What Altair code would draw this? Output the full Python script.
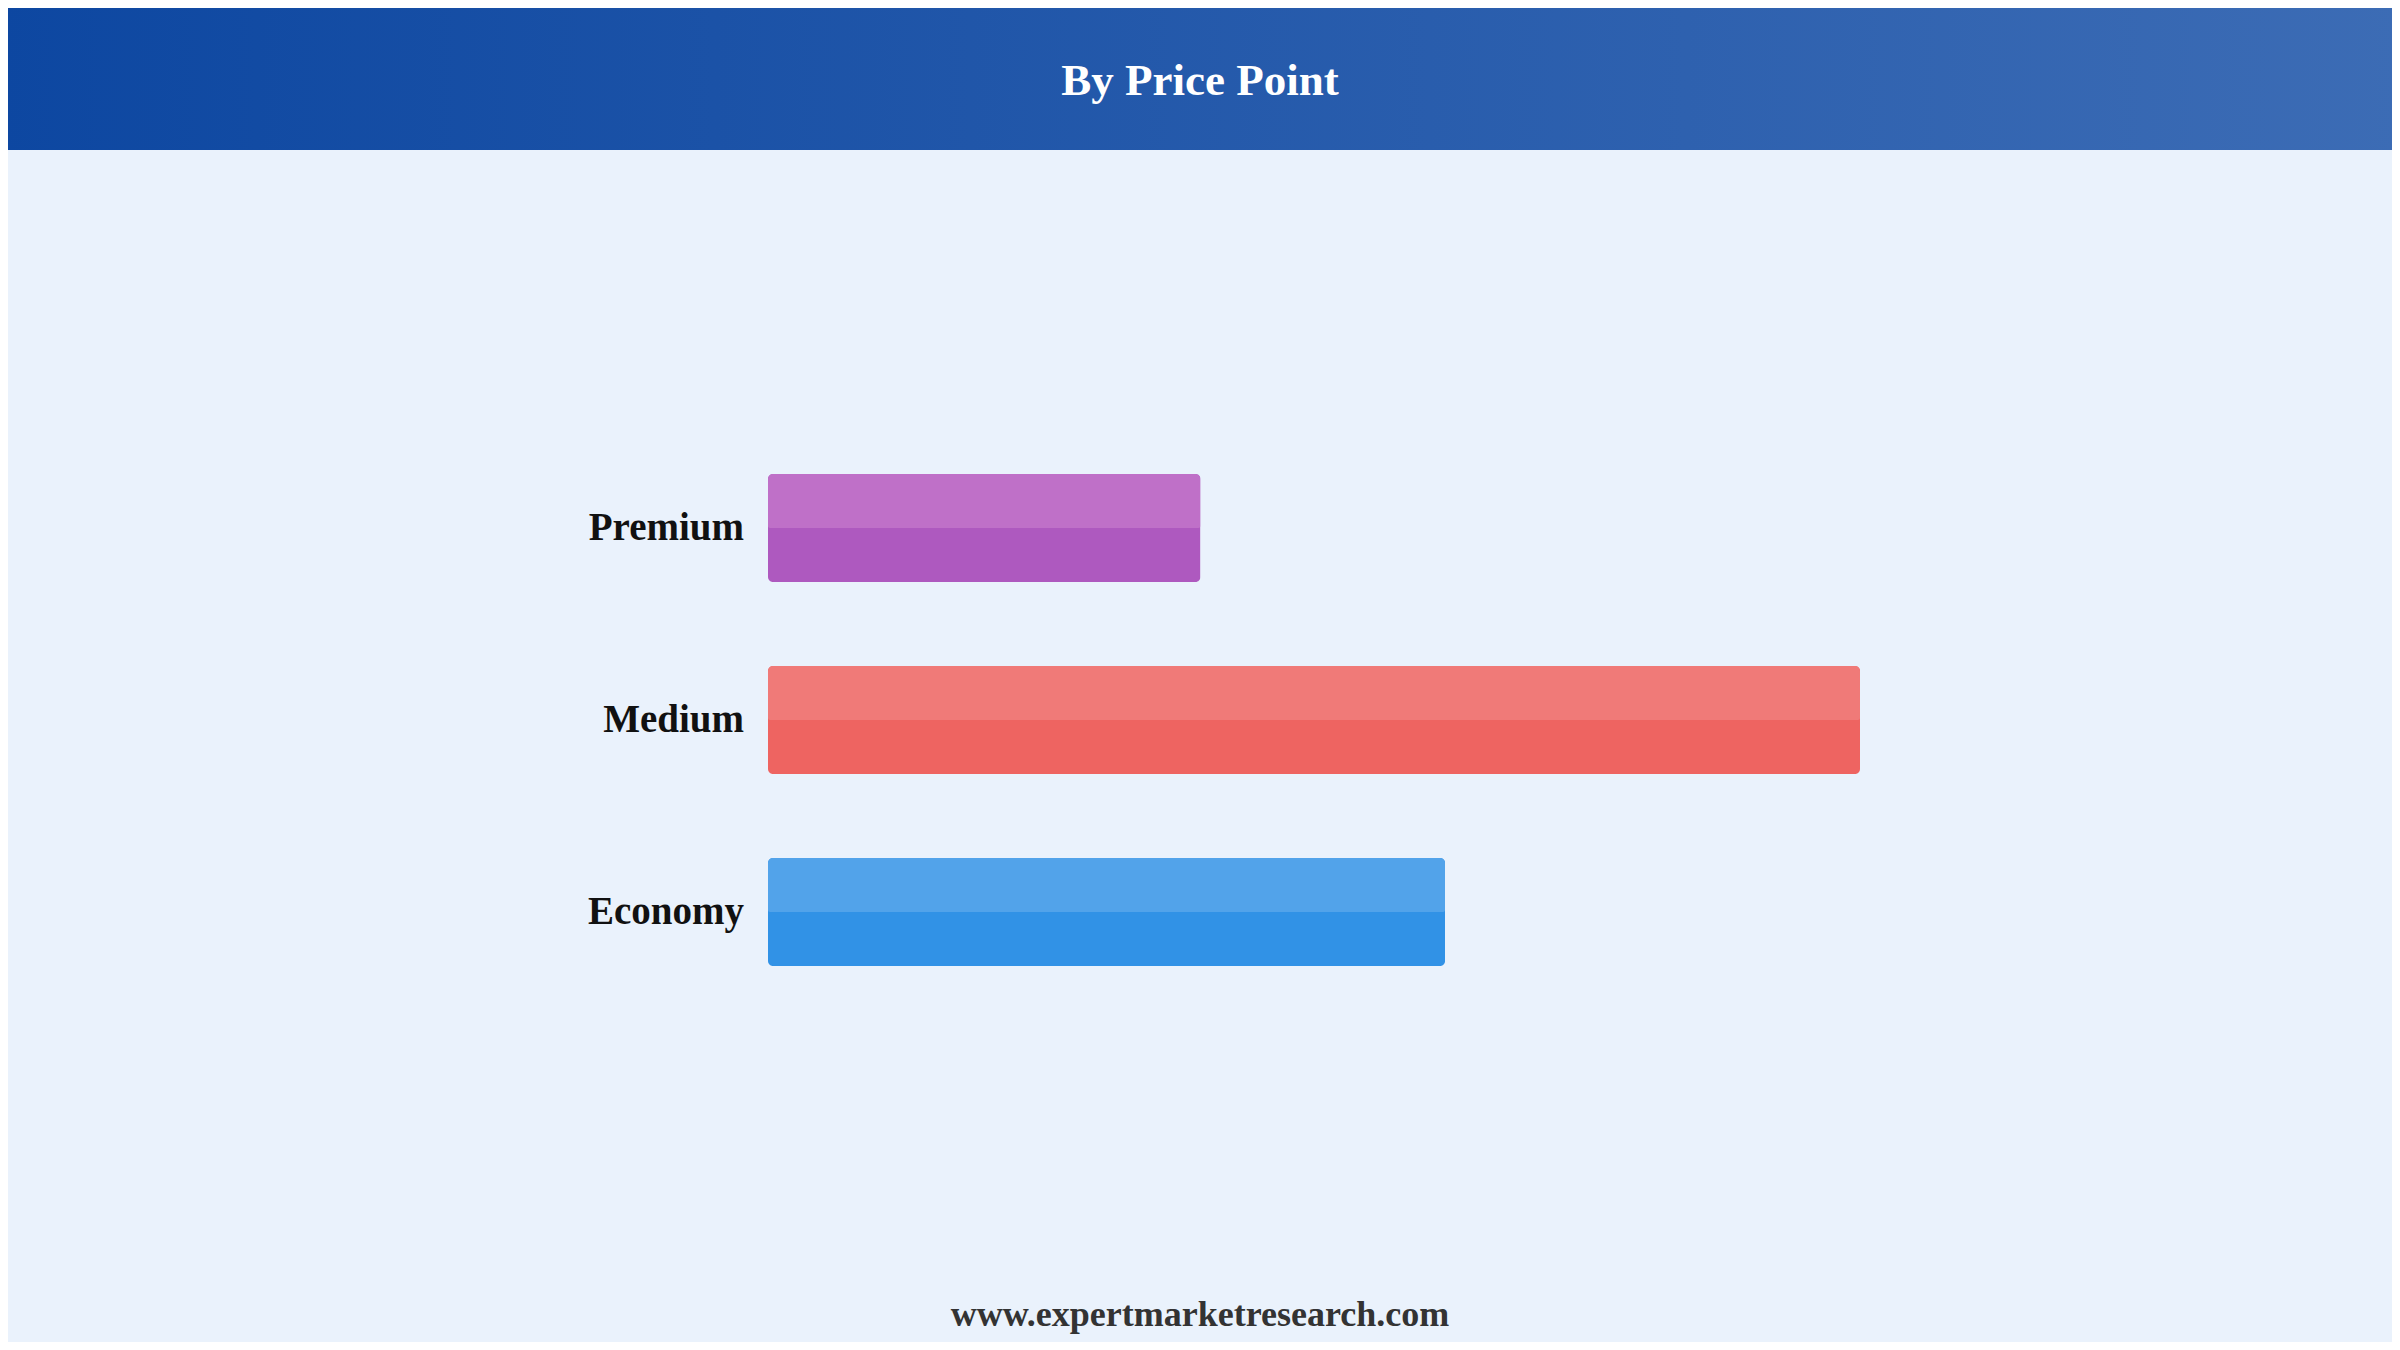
import altair as alt
import pandas as pd

# ---- data ----
categories = ["Premium", "Medium", "Economy"]
values = [39.6, 100.0, 62.0]
color_base = ["#AE59BF", "#EE6461", "#3192E6"]
color_light = ["#BF70C8", "#F07A78", "#52A3EA"]
title_text = ["By Price Point"]
footer_text = ["www.expertmarketresearch.com"]

df = pd.DataFrame({"cat": categories, "val": values,
                   "base": color_base, "light": color_light})

W, H = 2384, 1334

xs = alt.Scale(domain=[0, 100], range=[760, 1852])
ys = alt.Scale(domain=categories, range=[424, 1000], paddingInner=0.4375, paddingOuter=0.21875)

header = alt.Chart(pd.DataFrame({"t": title_text})).mark_rect(
    color=alt.Gradient(gradient="linear", x1=0, x2=1, y1=0, y2=0,
                       stops=[alt.GradientStop(color="#0D47A1", offset=0),
                              alt.GradientStop(color="#3C6CB5", offset=1)])
).encode(x=alt.value(-8), x2=alt.value(W + 8), y=alt.value(-8), y2=alt.value(142))

title = alt.Chart(pd.DataFrame({"t": title_text})).mark_text(
    font="Liberation Serif", fontWeight="bold", fontSize=45, color="white",
    align="center", baseline="middle"
).encode(x=alt.value(1192), y=alt.value(73), text="t:N")

bars = alt.Chart(df).mark_bar(cornerRadius=5).encode(
    x=alt.X("val:Q", scale=xs, axis=None),
    y=alt.Y("cat:N", scale=ys, axis=None, sort=categories),
    color=alt.Color("base:N", scale=None),
)

tops = alt.Chart(df).mark_bar(height=54, yOffset=-27,
                              cornerRadiusTopLeft=5, cornerRadiusTopRight=5,
                              cornerRadiusBottomLeft=2, cornerRadiusBottomRight=2).encode(
    x=alt.X("val:Q", scale=xs, axis=None),
    y=alt.Y("cat:N", scale=ys, axis=None, sort=categories),
    color=alt.Color("light:N", scale=None),
)

labels = alt.Chart(df).mark_text(
    font="Liberation Serif", fontWeight="bold", fontSize=39, color="#111111",
    align="right", baseline="middle"
).encode(
    x=alt.value(736),
    y=alt.Y("cat:N", scale=ys, axis=None, sort=categories),
    text="cat:N",
)

footer = alt.Chart(pd.DataFrame({"t": footer_text})).mark_text(
    font="Liberation Serif", fontWeight="bold", fontSize=36, color="#333333",
    align="center", baseline="middle"
).encode(x=alt.value(1192), y=alt.value(1307), text="t:N")

chart = alt.layer(header, title, bars, tops, labels, footer).properties(
    width=W, height=H,
    autosize=alt.AutoSizeParams(type="none"),
    padding=0,
    background="#EAF2FC",
).configure_view(stroke=None)

chart.save("out.html", embed_options={"renderer": "svg", "actions": False})
